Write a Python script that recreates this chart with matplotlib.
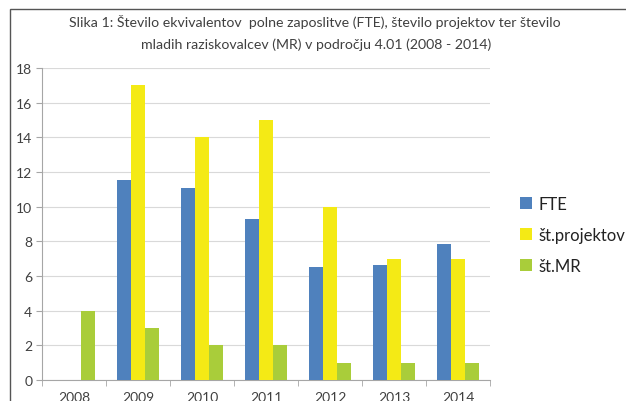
import matplotlib
matplotlib.use("Agg")
import matplotlib.pyplot as plt
from matplotlib.patches import Rectangle
import numpy as np

years = ["2008", "2009", "2010", "2011", "2012", "2013", "2014"]
fte = [0, 11.55, 11.05, 9.3, 6.5, 6.63, 7.85]
projekti = [0, 17, 14, 15, 10, 7, 7]
mr = [4, 3, 2, 2, 1, 1, 1]
series_names = ["FTE", "št.projektov", "št.MR"]
colors = ["#4F81BD", "#F4EA15", "#A9CD3A"]

plt.rcParams['font.family'] = ['Lato', 'DejaVu Sans']
W, H = 626, 402
fig = plt.figure(figsize=(W/100, H/100), dpi=100)
txt = "#404040"

# outer frame (cut off at right/bottom)
fig.patches.append(Rectangle((10/W, -0.2), 1.2, 1 - 10/H + 0.2, transform=fig.transFigure,
                             fill=False, edgecolor="#555555", linewidth=1.0))

ax = fig.add_axes([42/W, 1 - 381/H, 448/W, 312/H])
x = np.arange(len(years))
bw = 0.22
for i, (vals, name, c) in enumerate(zip([fte, projekti, mr], series_names, colors)):
    ax.bar(x + (i - 1) * bw, vals, bw, color=c, label=name, zorder=3)

ax.set_xlim(-0.5, len(years) - 0.5)
ax.set_ylim(0, 18)
ax.set_yticks(np.arange(0, 19, 2))
ax.yaxis.grid(True, color="#D9D9D9", linewidth=0.8, zorder=0)
ax.set_xticks(x)
ax.set_xticklabels(years)
ax.set_xticks(np.arange(-0.5, len(years), 1), minor=True)
ax.tick_params(axis='x', which='major', length=0, pad=8, labelsize=10, labelcolor=txt)
ax.tick_params(axis='x', which='minor', length=4, color="#A6A6A6", direction='out')
ax.tick_params(axis='y', length=4, color="#A6A6A6", labelsize=10, labelcolor=txt, pad=3)
for s in ['top', 'right']:
    ax.spines[s].set_visible(False)
for s in ['left', 'bottom']:
    ax.spines[s].set_color("#A6A6A6")

fig.text(0.503, 1 - 22/H, "Slika 1: Število ekvivalentov  polne zaposlitve (FTE), število projektov ter število",
         ha='center', va='center', fontsize=10.2, color=txt)
fig.text(0.505, 1 - 45/H, "mladih raziskovalcev (MR) v področju 4.01 (2008 - 2014)",
         ha='center', va='center', fontsize=10.2, color=txt)

leg = ax.legend(loc='center left', bbox_to_anchor=(505/W, 1 - 236/H), bbox_transform=fig.transFigure,
                frameon=False, fontsize=12, handlelength=0.7, handleheight=0.7, handletextpad=0.4,
                labelspacing=0.9, labelcolor="#222222")

fig.savefig("out.png", dpi=100)
